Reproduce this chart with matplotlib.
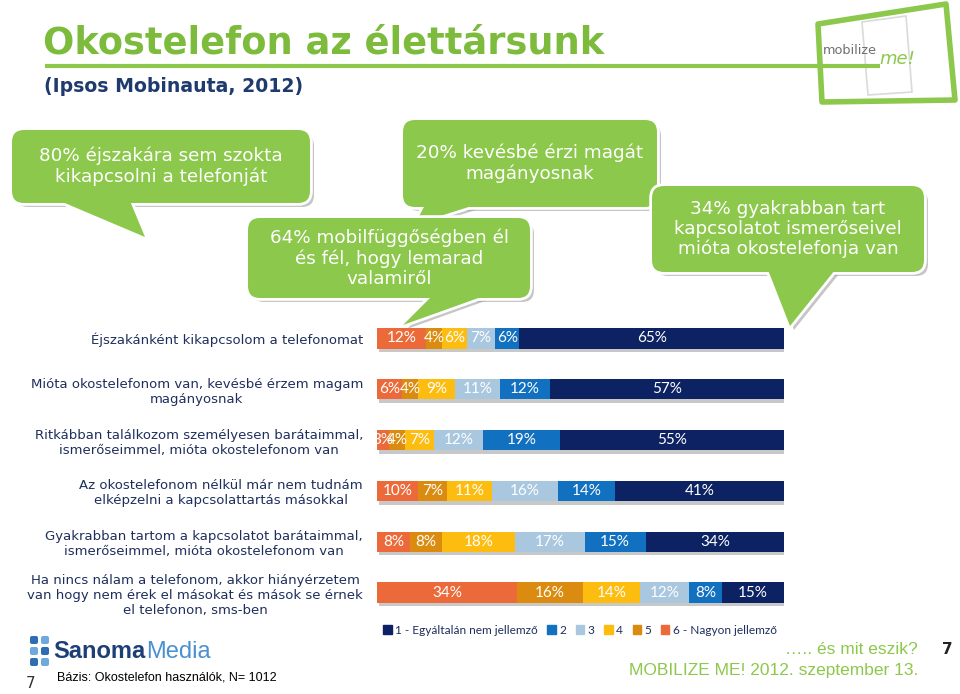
import numpy as np
import matplotlib
matplotlib.use('Agg')
import matplotlib.pyplot as plt
import matplotlib.transforms as mtransforms
from matplotlib.patches import FancyBboxPatch, Polygon, Patch

# data (share of answers, 6 = "Nagyon jellemző" ... 1 = "Egyáltalán nem jellemző")
categories = ['Éjszakánként kikapcsolom a telefonomat',
              'Mióta okostelefonom van, kevésbé érzem magam\nmagányosnak',
              'Ritkábban találkozom személyesen barátaimmal,\nismerőseimmel, mióta okostelefonom van',
              'Az okostelefonom nélkül már nem tudnám\nelképzelni a kapcsolattartás másokkal',
              'Gyakrabban tartom a kapcsolatot barátaimmal,\nismerőseimmel, mióta okostelefonom van',
              'Ha nincs nálam a telefonom, akkor hiányérzetem\nvan hogy nem érek el másokat és mások se érnek\nel telefonon, sms-ben']
v6 = [12, 6, 3, 10, 8, 34]
v5 = [4, 4, 4, 7, 8, 16]
v4 = [6, 9, 7, 11, 18, 14]
v3 = [7, 11, 12, 16, 17, 12]
v2 = [6, 12, 19, 14, 15, 8]
v1 = [65, 57, 55, 41, 34, 15]
legend_labels = ['1 - Egyáltalán nem jellemző', '2', '3', '4', '5', '6 - Nagyon jellemző']

colors = {'1': '#0C2262', '2': '#1270C0', '3': '#A9C8E0',
          '4': '#FDBC10', '5': '#DB8C10', '6': '#EC6A3A'}
green = '#8CC84B'
title_green = '#7DBB3C'
navy = '#1F2F5C'

fig = plt.figure(figsize=(9.6, 6.94), dpi=100)

# decoration layer in pixel coordinates
deco = fig.add_axes([0, 0, 1, 1], zorder=0)
deco.set_xlim(0, 960)
deco.set_ylim(694, 0)
deco.axis('off')

deco.text(43, 43, 'Okostelefon az élettársunk', fontsize=26.5, fontweight='bold',
          color=title_green, va='center', ha='left')
deco.plot([45, 880], [66, 66], color=green, lw=3, solid_capstyle='butt')
deco.text(44, 86, '(Ipsos Mobinauta, 2012)', fontsize=13.6, fontweight='bold',
          color='#1F3A6E', va='center', ha='left')

# mobilize me logo (simplified)
logo = Polygon([(818, 24), (946, 4), (955, 100), (822, 102)], closed=True,
               facecolor='white', edgecolor=green, lw=4, joinstyle='round')
deco.add_patch(logo)
phone = Polygon([(862, 22), (906, 16), (912, 92), (868, 95)], closed=True,
                facecolor='none', edgecolor='#DADADA', lw=1.2)
deco.add_patch(phone)
deco.text(823, 50, 'mobilize', fontsize=9.3, color='#6F6F6F', va='center', ha='left')
deco.text(879, 59, 'me!', fontsize=13, color=green, style='italic', va='center', ha='left')


def bubble(x0, y0, x1, y1, tail, text):
    for dx, fc, ec, lw in [(4, '#A0A0A0', 'none', 0), (0, 'none', 'white', 4), (0, green, 'none', 0)]:
        r = FancyBboxPatch((x0 + dx, y0 + dx), x1 - x0, y1 - y0,
                           boxstyle='round,pad=0,rounding_size=12',
                           facecolor=fc, edgecolor=ec, lw=lw, alpha=0.6 if dx else 1)
        t = Polygon([(px + dx, py + dx) for px, py in tail], closed=True,
                    facecolor=fc, edgecolor=ec, lw=lw, alpha=0.6 if dx else 1)
        deco.add_patch(r)
        deco.add_patch(t)
    deco.text((x0 + x1) / 2, (y0 + y1) / 2, text, color='white', fontsize=13.2,
              ha='center', va='center', linespacing=1.15)


bubble(12, 130, 310, 203, [(60, 201), (130, 201), (145, 237)],
       '80% éjszakára sem szokta\nkikapcsolni a telefonját')
bubble(403, 120, 657, 207, [(425, 205), (475, 205), (415, 224)],
       '20% kevésbé érzi magát\nmagányosnak')
bubble(248, 218, 530, 298, [(432, 296), (484, 296), (403, 325)],
       '64% mobilfüggőségben él\nés fél, hogy lemarad\nvalamiről')
bubble(652, 186, 924, 272, [(768, 270), (835, 270), (790, 326)],
       '34% gyakrabban tart\nkapcsolatot ismerőseivel\nmióta okostelefonja van')

# footer
for px, py, c in [(30, 640, '#2E6DB4'), (41, 640, '#6FA8DC'), (30, 651, '#6FA8DC'),
                  (41, 651, '#2E6DB4'), (30, 662, '#2E6DB4'), (41, 662, '#6FA8DC')]:
    deco.add_patch(FancyBboxPatch((px, py - 4), 8, 8, boxstyle='round,pad=0,rounding_size=2',
                                  facecolor=c, edgecolor='none'))
sanoma = deco.text(53, 652, 'Sanoma', fontsize=17, fontweight='bold', color='#1D3F77',
                   va='center', ha='left', family='Liberation Sans')
fig.canvas.draw()
bb = sanoma.get_window_extent(fig.canvas.get_renderer())
deco.text(bb.x1 + 1, 652, 'Media', fontsize=17, color='#4A90D0', va='center', ha='left',
          family='Liberation Sans',
          transform=mtransforms.blended_transform_factory(mtransforms.IdentityTransform(),
                                                          deco.transData))
deco.text(26, 683, '7', fontsize=11, color='#333333', va='center', ha='left')
deco.text(57, 678, 'Bázis: Okostelefon használók, N= 1012', fontsize=9, color='black',
          va='center', ha='left', family='Liberation Sans')
deco.text(918, 650, '….. és mit eszik?', fontsize=12.5, color=green, va='center', ha='right',
          family='Liberation Sans')
deco.text(918, 671, 'MOBILIZE ME! 2012. szeptember 13.', fontsize=12.5, color=green,
          va='center', ha='right', family='Liberation Sans')
deco.text(942, 650, '7', fontsize=11, fontweight='bold', color='#222222', va='center', ha='left')

# bar chart
ax = fig.add_axes([377 / 960, 1 - 618 / 694, 407 / 960, 305 / 694], zorder=1)
ax.patch.set_alpha(0)
series = [('6', v6), ('5', v5), ('4', v4), ('3', v3), ('2', v2), ('1', v1)]
totals = np.sum([s for _, s in series], axis=0)
y = np.arange(len(categories))
left = np.zeros(len(categories))
ax.barh(y + 0.07, np.ones(len(categories)), left=0.004, height=0.4, color='#C8C8C8', zorder=1)
for key, vals in series:
    share = np.array(vals) / totals
    ax.barh(y, share, left=left, height=0.4, color=colors[key], zorder=2)
    for yi, (s, v, l) in enumerate(zip(share, vals, left)):
        ax.text(l + s / 2, yi, f'{v}%', color='white', ha='center', va='center',
                fontsize=11, family='Lato', zorder=3)
    left += share

ax.set_xlim(0, 1)
ax.set_ylim(len(categories) - 0.5, -0.5)
ax.set_yticks(y)
ax.set_yticklabels(categories, fontsize=9.5, color=navy, multialignment='center')
ax.tick_params(axis='y', length=0, pad=10)
ax.set_xticks([])
for s in ax.spines.values():
    s.set_visible(False)

handles = [Patch(color=colors[k]) for k in ['1', '2', '3', '4', '5', '6']]
leg = fig.legend(handles, legend_labels, loc='center', bbox_to_anchor=(580 / 960, 1 - 630 / 694),
                 ncol=6, frameon=False, handlelength=0.7, handleheight=0.7, handletextpad=0.3,
                 columnspacing=0.8, prop={'family': 'Lato', 'size': 8.6})
for t in leg.get_texts():
    t.set_color(navy)

fig.savefig('out.png', dpi=100)
